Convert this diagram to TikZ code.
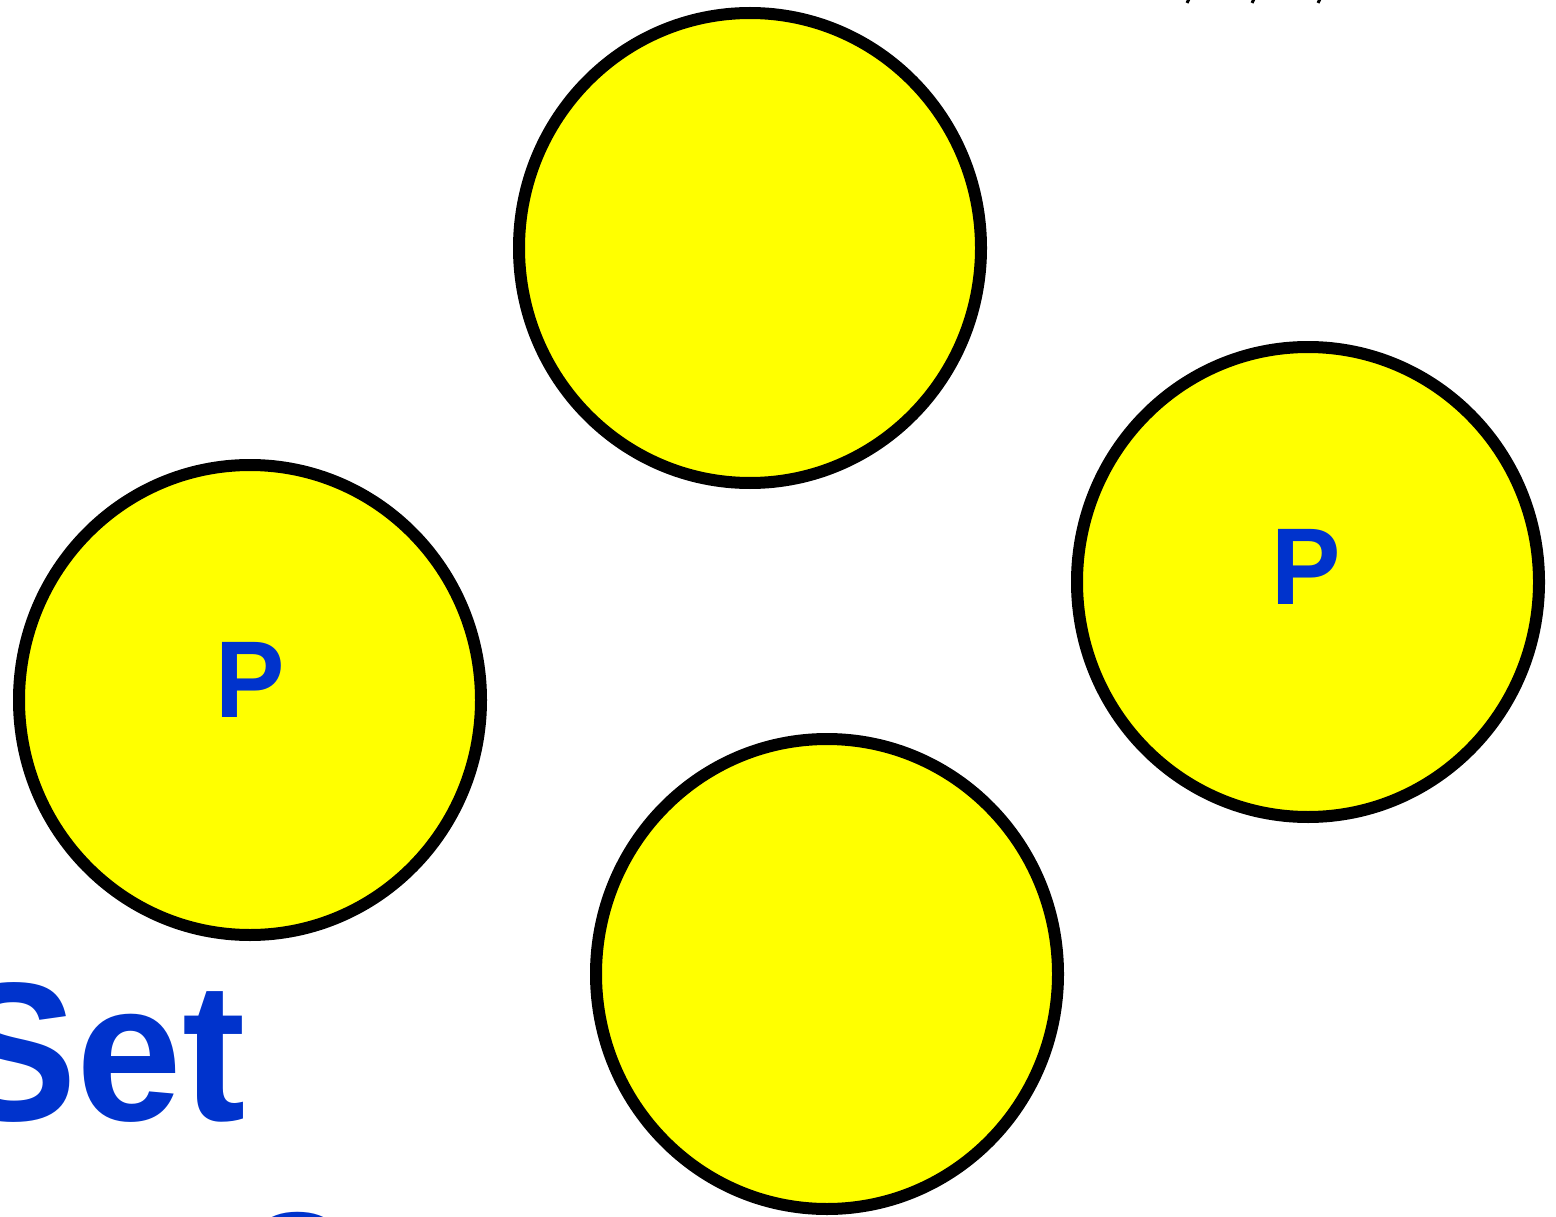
\documentclass[tikz,border=0pt]{standalone}
\usepackage{fontspec}
\setmainfont{Liberation Sans}
\definecolor{ballyellow}{HTML}{FFFF00}
\definecolor{txtblue}{HTML}{0033CC}
\begin{document}
\begin{tikzpicture}[x=1pt,y=-1pt,
  ball/.style={draw=black,line width=12pt,fill=ballyellow},
  plabel/.style={text=txtblue,font=\fontsize{104}{104}\selectfont\bfseries,inner sep=0pt,yscale=1.05,transform shape},
  bigtxt/.style={text=txtblue,font=\fontsize{190}{190}\selectfont\bfseries,inner sep=0pt}]
\useasboundingbox (0,0) rectangle (1556,1217);
\clip (0,0) rectangle (1556,1217);
\draw[ball] (750,248) ellipse [x radius=231pt,y radius=235pt];
\draw[ball] (250,700) ellipse [x radius=231pt,y radius=235pt];
\draw[ball] (1308,582) ellipse [x radius=231pt,y radius=235pt];
\draw[ball] (827,974) ellipse [x radius=231pt,y radius=235pt];
\node[plabel] (p1) at (250,679.5) {P};
\node[plabel] (p2) at (1306.5,566.5) {P};
\node[bigtxt,anchor=base west,yscale=1.04,transform shape] (set) at (-50,1120) {Set};
\node[bigtxt,anchor=north] (nxt) at (298,1212) {o};
\foreach \xx in {1189,1254,1320}{
  \draw[black,line width=3pt] (\xx,-1) -- (\xx-2,3);
}
\end{tikzpicture}
\end{document}
